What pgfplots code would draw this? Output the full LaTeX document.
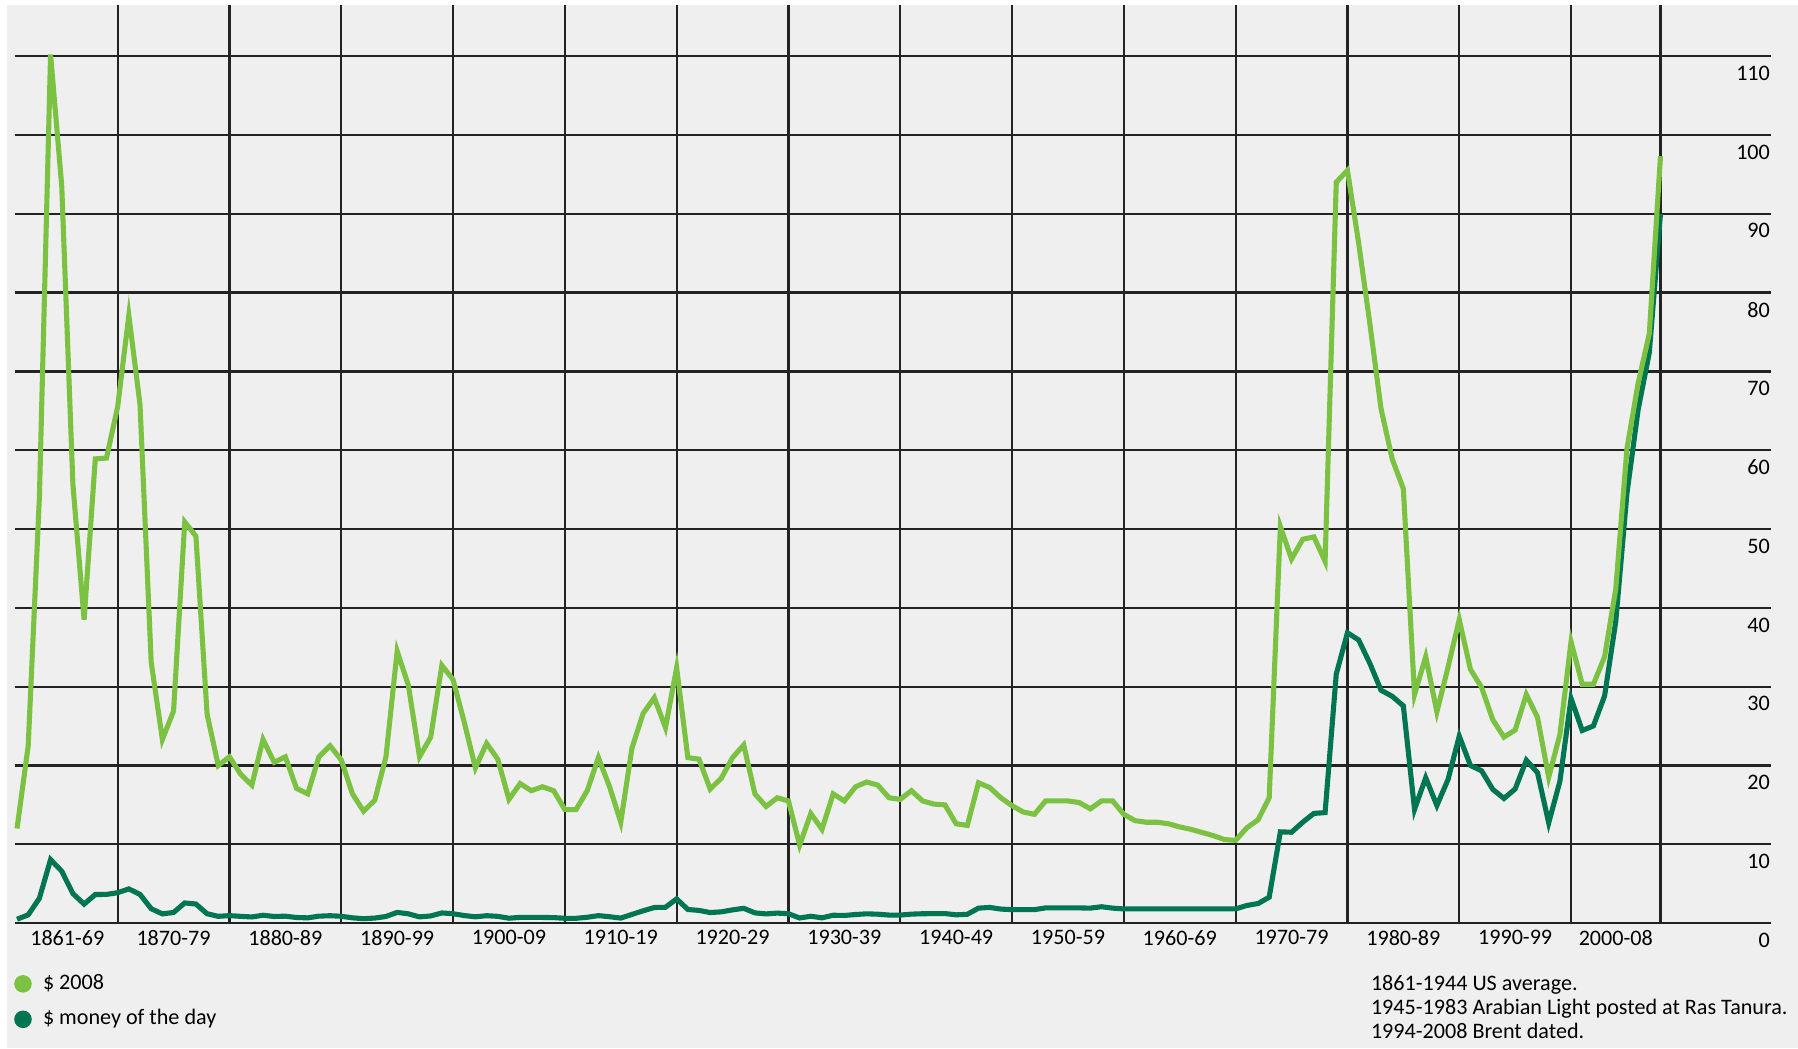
\documentclass[border=0pt]{standalone}
\usepackage{fontspec}
\setmainfont{Carlito}
\usepackage{pgfplots}
\usepackage{pgfplotstable}
\pgfplotsset{compat=1.18}
\definecolor{bpbg}{RGB}{239,239,239}
\definecolor{bplight}{RGB}{124,194,66}
\definecolor{bpdark}{RGB}{0,117,82}
\definecolor{bpgrid}{RGB}{35,35,35}
\newcommand{\lab}{\fontsize{6.3}{7.4}\selectfont}

% year, $ 2008, $ money of the day
\pgfplotstableread{
year real nominal
1861 12.0 0.49
1862 22.5 1.05
1863 54.0 3.15
1864 110.2 8.06
1865 93.5 6.59
1866 55.6 3.74
1867 38.5 2.41
1868 58.9 3.63
1869 59.0 3.64
1870 65.5 3.86
1871 77.1 4.34
1872 65.8 3.64
1873 33.1 1.83
1874 23.3 1.17
1875 26.9 1.35
1876 50.9 2.56
1877 49.1 2.42
1878 26.5 1.19
1879 20.0 0.86
1880 21.1 0.95
1881 18.9 0.86
1882 17.5 0.78
1883 23.3 1.00
1884 20.4 0.84
1885 21.1 0.88
1886 17.1 0.71
1887 16.4 0.67
1888 21.1 0.88
1889 22.5 0.94
1890 20.7 0.87
1891 16.4 0.67
1892 14.2 0.56
1893 15.6 0.64
1894 21.1 0.84
1895 34.5 1.36
1896 30.2 1.18
1897 21.1 0.79
1898 23.6 0.91
1899 32.7 1.29
1900 30.9 1.19
1901 25.5 0.96
1902 19.7 0.80
1903 22.8 0.94
1904 20.8 0.86
1905 15.7 0.62
1906 17.7 0.73
1907 16.8 0.72
1908 17.3 0.72
1909 16.8 0.70
1910 14.4 0.61
1911 14.4 0.61
1912 16.8 0.74
1913 21.0 0.95
1914 17.3 0.81
1915 12.8 0.64
1916 22.2 1.10
1917 26.6 1.56
1918 28.6 1.98
1919 24.8 2.01
1920 32.4 3.07
1921 21.0 1.73
1922 20.8 1.61
1923 17.0 1.34
1924 18.4 1.43
1925 21.0 1.68
1926 22.6 1.88
1927 16.4 1.30
1928 14.8 1.17
1929 15.9 1.27
1930 15.5 1.19
1931 9.9 0.65
1932 13.9 0.87
1933 11.9 0.67
1934 16.4 1.00
1935 15.5 0.97
1936 17.3 1.09
1937 17.9 1.18
1938 17.5 1.13
1939 15.9 1.02
1940 15.7 1.02
1941 16.8 1.14
1942 15.5 1.19
1943 15.1 1.20
1944 15.0 1.21
1945 12.6 1.05
1946 12.4 1.12
1947 17.8 1.90
1948 17.2 1.99
1949 15.9 1.78
1950 14.9 1.71
1951 14.1 1.71
1952 13.8 1.71
1953 15.5 1.93
1954 15.5 1.93
1955 15.5 1.93
1956 15.3 1.93
1957 14.5 1.90
1958 15.5 2.08
1959 15.5 1.90
1960 13.8 1.80
1961 13.0 1.80
1962 12.8 1.80
1963 12.8 1.80
1964 12.6 1.80
1965 12.2 1.80
1966 11.9 1.80
1967 11.5 1.80
1968 11.1 1.80
1969 10.6 1.80
1970 10.5 1.80
1971 12.1 2.24
1972 13.1 2.48
1973 15.9 3.29
1974 50.3 11.58
1975 46.2 11.53
1976 48.7 12.80
1977 49.0 13.92
1978 45.9 14.02
1979 94.0 31.61
1980 95.5 36.83
1981 86.3 35.93
1982 76.1 32.97
1983 65.3 29.55
1984 58.9 28.78
1985 55.1 27.56
1986 29.0 14.43
1987 33.8 18.44
1988 26.8 14.92
1989 32.5 18.23
1990 38.5 23.73
1991 32.2 20.00
1992 29.9 19.32
1993 25.8 16.97
1994 23.6 15.82
1995 24.5 17.02
1996 29.0 20.67
1997 26.1 19.09
1998 18.5 12.72
1999 23.9 17.97
2000 35.7 28.50
2001 30.3 24.44
2002 30.3 25.02
2003 33.8 28.83
2004 42.4 38.27
2005 60.2 54.52
2006 68.5 65.14
2007 74.8 72.39
2008 97.3 90.0
}\oil

\begin{document}
\begin{tikzpicture}
% page background
\fill[white] (-4.15pt,-35.6pt) rectangle (507.9pt,262.9pt);
\fill[bpbg] (-2.2pt,-35.6pt) rectangle (507.9pt,261.5pt);

\begin{axis}[
  scale only axis, width=500.1pt, height=261.5pt,
  xmin=1860.78, xmax=2017.85, ymin=0, ymax=116.5,
  axis line style={draw=none}, tick style={draw=none}, major tick length=0pt,
  xtick={1865.5,1875,1885,1895,1905,1915,1925,1935,1945,1955,1965,1975,1985,1995,2004},
  xticklabels={1861-69,1870-79,1880-89,1890-99,1900-09,1910-19,1920-29,1930-39,1940-49,1950-59,1960-69,1970-79,1980-89,1990-99,2000-08},
  extra x ticks={1870,1880,1890,1900,1910,1920,1930,1940,1950,1960,1970,1980,1990,2000,2008},
  extra x tick labels={},
  extra x tick style={xmajorgrids=true},
  x grid style={bpgrid, line width=0.6pt},
  ytick={0,10,...,110},
  ymajorgrids=true,
  y grid style={bpgrid, line width=0.65pt},
  yticklabel pos=right,
  /pgf/number format/assume math mode=true,
  xticklabel style={anchor=north, inner sep=0pt, yshift=-1.8pt, font=\lab},
  yticklabel style={anchor=north east, inner sep=0pt, yshift=-2.6pt, font=\lab},
]
\addplot[bpdark, line width=1.45pt] table[x=year, y=nominal]{\oil};
\addplot[bplight, line width=1.45pt] table[x=year, y=real]{\oil};
\end{axis}

% legend
\fill[bplight] (2.4pt,-17.3pt) circle (2.5pt);
\node[anchor=west, inner sep=0pt, text height=4.4pt, text depth=1.3pt, font=\lab] at (7.9pt,-17.3pt) {\$ 2008};
\fill[bpdark] (2.4pt,-27.4pt) circle (2.5pt);
\node[anchor=west, inner sep=0pt, text height=4.4pt, text depth=1.3pt, font=\lab] at (7.9pt,-27.4pt) {\$ money of the day};

% source notes
\node[anchor=west, inner sep=0pt, text height=4.4pt, text depth=1.3pt, font=\lab] at (386.1pt,-17.6pt) {1861-1944 US average.};
\node[anchor=west, inner sep=0pt, text height=4.4pt, text depth=1.3pt, font=\lab] at (386.1pt,-24.5pt) {1945-1983 Arabian Light posted at Ras Tanura.};
\node[anchor=west, inner sep=0pt, text height=4.4pt, text depth=1.3pt, font=\lab] at (386.1pt,-31.4pt) {1994-2008 Brent dated.};
\end{tikzpicture}
\end{document}
